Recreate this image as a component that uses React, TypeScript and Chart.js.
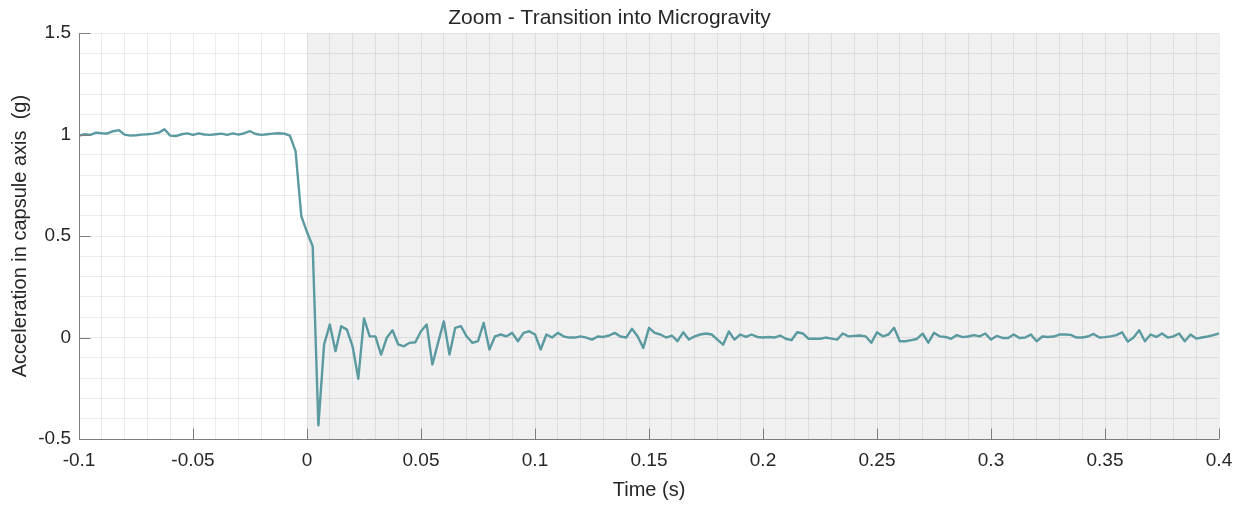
import React, { useEffect, useRef } from "react";
import { Chart, registerables } from "chart.js";

Chart.register(...registerables);

const TITLE = "Zoom - Transition into Microgravity";
const X_LABEL = "Time (s)";
const Y_LABEL = "Acceleration in capsule axis  (g)";

const SAMPLE_START = -0.1;
const SAMPLE_STEP = 0.0025;

const X_MAJOR_TICKS = [-0.1, -0.05, 0, 0.05, 0.1, 0.15, 0.2, 0.25, 0.3, 0.35, 0.4];
const X_TICK_LABELS = ["-0.1", "-0.05", "0", "0.05", "0.1", "0.15", "0.2", "0.25", "0.3", "0.35", "0.4"];
const Y_MAJOR_TICKS = [-0.5, 0, 0.5, 1, 1.5];
const Y_TICK_LABELS = ["-0.5", "0", "0.5", "1", "1.5"];

const SHADE_START = 0;
const SHADE_END = 0.4;

// acceleration (g), sampled every 2.5 ms from -0.1 s
const accelBeforeRelease = [
  0.995, 1.002, 0.999, 1.01, 1.007, 1.006, 1.017, 1.022, 1.0, 0.995,
  0.997, 1.0, 1.002, 1.005, 1.01, 1.027, 0.995, 0.993, 1.002, 1.006,
  0.999, 1.006, 1.001, 0.999, 1.002, 1.005, 0.999, 1.006, 1.0, 1.007,
  1.017, 1.003, 0.999, 1.002, 1.005, 1.007, 1.005, 0.995,
];
const accelRelease = [
  0.918, 0.598, 0.52, 0.45, -0.433, -0.034, 0.064, -0.067, 0.056, 0.039,
  -0.043, -0.203, 0.094, 0.006, 0.006, -0.084, -0.001, 0.036, -0.034, -0.043,
  -0.026, -0.023, 0.031,
];
const accelSettling = [
  0.064, -0.133, -0.025, 0.08, -0.084, 0.048, 0.056, 0.006, -0.026, -0.018,
  0.072, -0.059, 0.006, 0.015, 0.006, 0.023, -0.018, 0.023, 0.031, 0.015,
  -0.059, 0.015, 0.0, 0.023, 0.006, 0.0, 0.0, 0.006, 0.0, -0.01,
  0.005, 0.003, 0.01, 0.023, 0.005, 0.0, 0.043, 0.006, -0.051, 0.048,
  0.023, 0.015, 0.0, 0.01, -0.018, 0.026, -0.01, 0.006, 0.015, 0.02,
  0.015, -0.01, -0.035, 0.03, -0.01, 0.015, 0.003, 0.015, 0.003, 0.0,
  0.003, 0.0, 0.01, -0.006, -0.013, 0.026, 0.02, -0.006, -0.006, -0.006,
];
const accelMicrogravity = [
  0.0, -0.005, -0.01, 0.02, 0.006, 0.008, 0.01, 0.006, -0.026, 0.026,
  0.006, 0.015, 0.048, -0.018, -0.018, -0.013, -0.007, 0.02, -0.025, 0.023,
  0.006, 0.003, -0.006, 0.012, 0.002, 0.005, 0.012, 0.006, 0.02, -0.01,
  0.008, -0.002, -0.002, 0.015, -0.002, 0.0, 0.015, -0.018, 0.005, 0.003,
  0.005, 0.015, 0.015, 0.013, 0.0, 0.0, 0.005, 0.018, 0.0, 0.002,
  0.006, 0.012, 0.026, -0.02, 0.0, 0.036, -0.018, 0.015, 0.003, 0.02,
  0.0, 0.006, 0.02, -0.018, 0.015, -0.005, 0.0, 0.005, 0.012, 0.02,
];

const FONT = '"Liberation Sans", Arial, Helvetica, sans-serif';
const LINE_COLOR = "#5a9aa0";
const TEXT_COLOR = "#262626";
const AXIS_COLOR = "#7d7d7d";
const GRID_COLOR = "rgba(0,0,0,0.075)";
const SHADE_COLOR = "#f0f0f0";

const matches = (v: number, arr: number[]) =>
  arr.findIndex((a) => Math.abs(a - v) < 1e-7);

const shadePlugin = {
  id: "shade",
  beforeDraw(chart: any) {
    const { ctx, chartArea, scales } = chart;
    const x0 = scales.x.getPixelForValue(SHADE_START);
    const x1 = scales.x.getPixelForValue(SHADE_END);
    ctx.save();
    ctx.fillStyle = SHADE_COLOR;
    ctx.fillRect(x0, chartArea.top, x1 - x0, chartArea.bottom - chartArea.top);
    ctx.restore();
  },
};

const axesPlugin = {
  id: "matlabAxes",
  afterDraw(chart: any) {
    const { ctx, chartArea, scales } = chart;
    const left = Math.round(chartArea.left) + 0.5;
    const bottom = Math.round(chartArea.bottom) + 0.5;
    ctx.save();
    ctx.strokeStyle = AXIS_COLOR;
    ctx.lineWidth = 1;
    ctx.beginPath();
    ctx.moveTo(left, chartArea.top);
    ctx.lineTo(left, bottom);
    ctx.lineTo(chartArea.right, bottom);
    for (const v of X_MAJOR_TICKS) {
      const px = Math.round(scales.x.getPixelForValue(v)) + 0.5;
      ctx.moveTo(px, bottom);
      ctx.lineTo(px, bottom - 11);
    }
    for (const v of Y_MAJOR_TICKS) {
      const py = Math.round(scales.y.getPixelForValue(v)) + 0.5;
      ctx.moveTo(left, py);
      ctx.lineTo(left + 11, py);
    }
    ctx.stroke();
    ctx.restore();
  },
};

export default function App() {
  const canvasRef = useRef<HTMLCanvasElement | null>(null);

  useEffect(() => {
    const values = [
      ...accelBeforeRelease,
      ...accelRelease,
      ...accelSettling,
      ...accelMicrogravity,
    ];
    const points = values.map((v, i) => ({ x: SAMPLE_START + i * SAMPLE_STEP, y: v }));

    const chart = new Chart(canvasRef.current as HTMLCanvasElement, {
      type: "line",
      data: {
        datasets: [
          {
            data: points,
            borderColor: LINE_COLOR,
            borderWidth: 2.4,
            borderJoinStyle: "round",
            pointRadius: 0,
            tension: 0,
            fill: false,
          },
        ],
      },
      options: {
        responsive: false,
        animation: false,
        devicePixelRatio: 1,
        layout: { padding: { left: 0, right: 24, top: 0, bottom: 0 } },
        plugins: {
          legend: { display: false },
          tooltip: { enabled: false },
          title: {
            display: true,
            text: TITLE,
            color: TEXT_COLOR,
            font: { family: FONT, size: 21, weight: "normal" },
            padding: { top: 6, bottom: 2 },
          },
        },
        scales: {
          x: {
            type: "linear",
            min: -0.1,
            max: 0.4,
            afterFit: (s: any) => {
              s.height = 68;
            },
            ticks: {
              stepSize: 0.01,
              autoSkip: false,
              maxRotation: 0,
              minRotation: 0,
              padding: 10,
              color: TEXT_COLOR,
              font: { family: FONT, size: 19 },
              callback: (value: any) => {
                const i = matches(Number(value), X_MAJOR_TICKS);
                return i >= 0 ? X_TICK_LABELS[i] : "";
              },
            },
            grid: { color: GRID_COLOR, lineWidth: 1, drawTicks: false, tickLength: 0 },
            border: { display: false },
            title: {
              display: true,
              text: X_LABEL,
              color: TEXT_COLOR,
              font: { family: FONT, size: 20 },
              padding: 5,
            },
          },
          y: {
            type: "linear",
            min: -0.5,
            max: 1.5,
            afterFit: (s: any) => {
              s.width = 79;
            },
            ticks: {
              stepSize: 0.1,
              autoSkip: false,
              padding: 8,
              color: TEXT_COLOR,
              font: { family: FONT, size: 19 },
              callback: (value: any) => {
                const i = matches(Number(value), Y_MAJOR_TICKS);
                return i >= 0 ? Y_TICK_LABELS[i] : "";
              },
            },
            grid: { color: GRID_COLOR, lineWidth: 1, drawTicks: false, tickLength: 0 },
            border: { display: false },
            title: {
              display: true,
              text: Y_LABEL,
              color: TEXT_COLOR,
              font: { family: FONT, size: 20 },
              padding: 8,
            },
          },
        },
      },
      plugins: [shadePlugin, axesPlugin],
    } as any);

    return () => chart.destroy();
  }, []);

  return (
    <div style={{ position: "fixed", left: 0, top: 0, width: 1243, height: 507, background: "#fff" }}>
      <canvas ref={canvasRef} width={1243} height={507} />
    </div>
  );
}
